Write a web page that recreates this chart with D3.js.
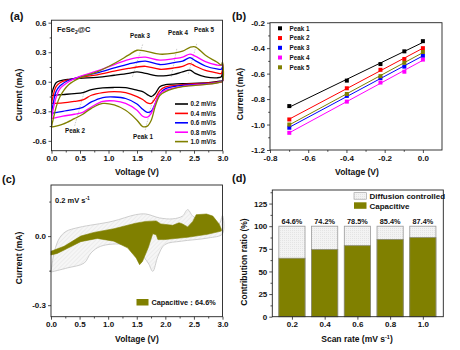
<!DOCTYPE html>
<html><head><meta charset="utf-8">
<script src="https://cdn.jsdelivr.net/npm/d3@7"></script>
<style>
html,body{margin:0;padding:0;background:#fff;}
svg text{font-family:"Liberation Sans",Arial,sans-serif;font-weight:bold;}
</style></head>
<body><svg id="chart" width="460" height="350"></svg>
<script>
// ---------- DATA ----------
// (a) CV curves at different scan rates
const scanRates = ["0.2 mV/s","0.4 mV/s","0.6 mV/s","0.8 mV/s","1.0 mV/s"];
const cvColors = ["#000000","#ff0000","#0000ff","#ff00ff","#808000"];
const cvVoltUp = [0,0.03,0.08,0.15,0.3,0.5,0.8,1.1,1.35,1.5,1.65,1.9,2.15,2.3,2.43,2.52,2.7,2.9,2.98,3.0];
const cvUp02 = [-0.14,-0.07,-0.01,0.01,0.025,0.035,0.045,0.066,0.085,0.1,0.085,0.06,0.076,0.1,0.117,0.085,0.05,0.04,0.05,0.1];
const cvUp04 = [-0.22,-0.14,-0.05,-0.01,0.02,0.045,0.07,0.107,0.135,0.15,0.157,0.127,0.14,0.157,0.185,0.16,0.115,0.09,0.083,0.12];
const cvUp06 = [-0.32,-0.22,-0.1,-0.04,0.015,0.05,0.09,0.14,0.18,0.2,0.21,0.175,0.195,0.21,0.245,0.215,0.16,0.13,0.127,0.15];
const cvUp08 = [-0.375,-0.28,-0.16,-0.07,0.0,0.055,0.11,0.175,0.225,0.245,0.25,0.22,0.235,0.25,0.28,0.26,0.205,0.17,0.167,0.18];
const cvUp10 = [-0.46,-0.38,-0.26,-0.15,-0.03,0.04,0.1,0.185,0.27,0.32,0.31,0.28,0.29,0.31,0.35,0.355,0.27,0.2,0.17,0.2];
const cvVoltDown = [3.0,2.95,2.75,2.3,2.0,1.9,1.82,1.75,1.68,1.6,1.5,1.3,1.1,0.9,0.7,0.55,0.4,0.2,0.0];
const cvDown02 = [0.012,0.005,-0.008,-0.02,-0.03,-0.05,-0.12,-0.15,-0.13,-0.1,-0.085,-0.06,-0.058,-0.062,-0.08,-0.11,-0.12,-0.13,-0.14];
const cvDown04 = [0.01,0.0,-0.012,-0.03,-0.053,-0.09,-0.17,-0.22,-0.215,-0.18,-0.15,-0.11,-0.1,-0.11,-0.137,-0.185,-0.2,-0.215,-0.22];
const cvDown06 = [0.01,0.0,-0.019,-0.036,-0.07,-0.12,-0.22,-0.3,-0.31,-0.28,-0.225,-0.17,-0.155,-0.16,-0.205,-0.26,-0.28,-0.3,-0.32];
const cvDown08 = [0.005,-0.005,-0.022,-0.046,-0.086,-0.12,-0.22,-0.32,-0.36,-0.35,-0.29,-0.22,-0.195,-0.2,-0.256,-0.31,-0.33,-0.35,-0.375];
const cvDown10 = [0.005,-0.005,-0.025,-0.05,-0.1,-0.14,-0.25,-0.39,-0.45,-0.455,-0.39,-0.29,-0.235,-0.22,-0.27,-0.33,-0.375,-0.43,-0.46];
const cvUps = [cvUp02,cvUp04,cvUp06,cvUp08,cvUp10];
const cvDowns = [cvDown02,cvDown04,cvDown06,cvDown08,cvDown10];

// (b) log(i) vs log(v)
const peakNames = ["Peak 1","Peak 2","Peak 3","Peak 4","Peak 5"];
const peakColors = ["#000000","#ff0000","#0000ff","#ff00ff","#808000"];
const logScan = [-0.699,-0.398,-0.222,-0.097,0.0];
const logPeak1 = [-0.855,-0.655,-0.525,-0.425,-0.345];
const logPeak2 = [-0.96,-0.715,-0.57,-0.485,-0.40];
const logPeak3 = [-1.025,-0.775,-0.635,-0.545,-0.46];
const logPeak4 = [-1.065,-0.82,-0.67,-0.585,-0.49];
const logPeak5 = [-1.0,-0.76,-0.62,-0.515,-0.43];
const logPeaks = [logPeak1,logPeak2,logPeak3,logPeak4,logPeak5];

// (c) capacitive separation at 0.2 mV/s
const totVoltUp = [0,0.06,0.15,0.26,0.49,1.07,1.48,1.66,1.9,2.13,2.3,2.39,2.48,2.65,2.83,2.94,3.0];
const totCurUp = [-0.156,-0.066,-0.008,0.02,0.038,0.064,0.093,0.096,0.079,0.075,0.087,0.115,0.087,0.064,0.05,0.053,0.09];
const totVoltDown = [3.0,2.75,2.28,1.99,1.87,1.78,1.7,1.55,1.28,0.87,0.7,0.58,0.29,0];
const totCurDown = [0.01,-0.008,-0.022,-0.037,-0.088,-0.153,-0.117,-0.073,-0.037,-0.044,-0.073,-0.117,-0.138,-0.156];
const capVoltUp = [0,0.23,0.52,0.75,1.1,1.48,1.66,1.84,1.92,2.13,2.24,2.3,2.39,2.48,2.54,2.72,2.83,2.94,2.98];
const capCurUp = [-0.066,-0.044,0.0,0.016,0.032,0.056,0.064,0.066,0.053,0.047,0.058,0.053,0.04,0.064,0.093,0.096,0.087,0.053,0.03];
const capVoltDown = [2.98,2.74,2.39,1.99,1.87,1.84,1.78,1.7,1.6,1.55,1.49,1.34,1.1,0.81,0.52,0.29,0.11,0];
const capCurDown = [0.022,0.008,-0.005,-0.015,-0.015,0.006,0.01,-0.051,-0.11,-0.124,-0.095,-0.051,-0.022,-0.01,-0.024,-0.053,-0.075,-0.082];

// (d) contribution ratios
const rateCats = [0.2,0.4,0.6,0.8,1.0];
const rateLabels = ["0.2","0.4","0.6","0.8","1.0"];
const capPercent = [64.6,74.2,78.5,85.4,87.4];

// ---------- DRAW ----------
const svg = d3.select("#chart");
const defs = svg.append("defs");
const hatch = defs.append("pattern").attr("id","hatch").attr("patternUnits","userSpaceOnUse")
  .attr("width",3).attr("height",3).attr("patternTransform","rotate(45)");
hatch.append("rect").attr("width",3).attr("height",3).attr("fill","#f6f6f6");
hatch.append("line").attr("x1",0).attr("y1",0).attr("x2",0).attr("y2",3).attr("stroke","#dadada").attr("stroke-width",0.7);
const dots = defs.append("pattern").attr("id","dots").attr("patternUnits","userSpaceOnUse")
  .attr("width",2).attr("height",2);
dots.append("rect").attr("width",2).attr("height",2).attr("fill","#f3f3f3");
dots.append("rect").attr("width",0.8).attr("height",0.8).attr("fill","#dcdcdc");

const fmt1 = d => d.toFixed(1);
function frame(x, y, xMajor, xMinor, yMajor, yMinor, xFmt, yFmt){
  const [x0,x1] = x.range(), [y0,y1] = y.range();
  const g = svg.append("g");
  g.append("g").attr("transform",`translate(0,${y0})`)
    .call(d3.axisBottom(x).tickValues(xMajor).tickSize(3).tickSizeOuter(0).tickFormat(xFmt).tickPadding(2));
  g.append("g").attr("transform",`translate(0,${y0})`)
    .call(d3.axisBottom(x).tickValues(xMinor).tickSize(1.8).tickSizeOuter(0).tickFormat(""));
  g.append("g").attr("transform",`translate(${x0},0)`)
    .call(d3.axisLeft(y).tickValues(yMajor).tickSize(3).tickSizeOuter(0).tickFormat(yFmt).tickPadding(2));
  g.append("g").attr("transform",`translate(${x0},0)`)
    .call(d3.axisLeft(y).tickValues(yMinor).tickSize(1.8).tickSizeOuter(0).tickFormat(""));
  g.selectAll(".domain").remove();
  g.selectAll(".tick line").attr("stroke","#222").attr("stroke-width",0.8);
  g.selectAll(".tick text").attr("font-size",8).attr("fill","#111");
  g.append("rect").attr("x",x0).attr("y",y1).attr("width",x1-x0).attr("height",y0-y1)
    .attr("fill","none").attr("stroke","#222").attr("stroke-width",0.9);
}
function txt(x,y,s,size,anchor,rot){
  const t = svg.append("text").attr("x",x).attr("y",y).attr("font-size",size)
    .attr("text-anchor",anchor||"start").attr("fill","#111").text(s);
  if(rot) t.attr("transform",`rotate(${rot},${x},${y})`);
  return t;
}

// ===== (a) =====
const xa = d3.scaleLinear().domain([0,3]).range([51.5,222.5]);
const ya = d3.scaleLinear().domain([-0.7,0.625]).range([150.7,20.2]);
const lineA = d3.line().x(d=>xa(d[0])).y(d=>ya(d[1])).curve(d3.curveCatmullRom.alpha(0.5));
const guides = [[[1.42,0.05],[1.6,0.38]],[[2.1,0.05],[2.2,0.34]],[[2.4,0.08],[2.55,0.39]],
                [[1.8,-0.13],[1.64,-0.5]],[[0.58,-0.09],[0.4,-0.46]]];
guides.forEach(gd=>{
  svg.append("path").attr("d",d3.line().x(d=>xa(d[0])).y(d=>ya(d[1]))(gd))
    .attr("stroke","#aaa").attr("stroke-width",0.6).attr("stroke-dasharray","1.5,1.2").attr("fill","none");
});
cvUps.forEach((up,i)=>{
  const pts = cvVoltUp.map((v,j)=>[v,up[j]]).concat(cvVoltDown.map((v,j)=>[v,cvDowns[i][j]]));
  svg.append("path").attr("d",lineA(pts)).attr("fill","none").attr("stroke",cvColors[i]).attr("stroke-width",1.3);
});
frame(xa,ya,[0,0.5,1,1.5,2,2.5,3],[0.25,0.75,1.25,1.75,2.25,2.75],
      [-0.6,-0.3,0,0.3,0.6],[-0.45,-0.15,0.15,0.45],fmt1,fmt1);
const fe = txt(57,32,"FeSe",7.5);
fe.append("tspan").attr("font-size",5).attr("dy",2).text("2");
fe.append("tspan").attr("dy",-2).text("@C");
[["Peak 3",140,38],["Peak 4",178,35],["Peak 5",204,32],["Peak 2",75,133],["Peak 1",143,139]]
  .forEach(p=>txt(p[1],p[2],p[0],6.3,"middle"));
scanRates.forEach((s,i)=>{
  const yy = 104 + i*9.4;
  svg.append("line").attr("x1",175).attr("x2",188).attr("y1",yy).attr("y2",yy)
    .attr("stroke",cvColors[i]).attr("stroke-width",1.6);
  txt(190.5,yy+2.3,s,6.3);
});
txt(22,95,"Current (mA)",8.5,"middle",-90);
txt(137,175,"Voltage (V)",8.5,"middle");
txt(10,20,"(a)",11,"start");

// ===== (b) =====
const xb = d3.scaleLinear().domain([-0.8,0.1]).range([270,442]);
const yb = d3.scaleLinear().domain([-1.2,-0.2]).range([150,22.7]);
frame(xb,yb,[-0.8,-0.6,-0.4,-0.2,0],[-0.7,-0.5,-0.3,-0.1],
      [-1.2,-1.0,-0.8,-0.6,-0.4,-0.2],[-1.1,-0.9,-0.7,-0.5,-0.3],fmt1,fmt1);
logPeaks.forEach((ys,i)=>{
  const mx = d3.mean(logScan), my = d3.mean(ys);
  const slope = d3.sum(logScan.map((x,j)=>(x-mx)*(ys[j]-my)))/d3.sum(logScan.map(x=>(x-mx)*(x-mx)));
  const b = my - slope*mx;
  const xs = d3.extent(logScan);
  svg.append("line").attr("x1",xb(xs[0])).attr("y1",yb(slope*xs[0]+b))
    .attr("x2",xb(xs[1])).attr("y2",yb(slope*xs[1]+b)).attr("stroke",peakColors[i]).attr("stroke-width",1);
  svg.selectAll(null).data(logScan).enter().append("rect")
    .attr("x",(d)=>xb(d)-2).attr("y",(d,j)=>yb(ys[j])-2).attr("width",4).attr("height",4)
    .attr("fill",peakColors[i]);
  const yy = 28.3 + i*9.75;
  svg.append("rect").attr("x",278).attr("y",yy-2).attr("width",4).attr("height",4).attr("fill",peakColors[i]);
  txt(289.5,yy+2.3,peakNames[i],6.3);
});
txt(243,94,"Current (mA)",8.5,"middle",-90);
txt(357,175,"Voltage (V)",8.5,"middle");
txt(232,20,"(b)",11,"start");

// ===== (c) =====
const xc = d3.scaleLinear().domain([0,3]).range([51,222.5]);
const yc = d3.scaleLinear().domain([-0.35,0.222]).range([316.7,185]);
const lineC = d3.line().x(d=>xc(d[0])).y(d=>yc(d[1])).curve(d3.curveCatmullRom.alpha(0.5));
const lineCl = d3.line().x(d=>xc(d[0])).y(d=>yc(d[1])).curve(d3.curveLinear);
const totPts = totVoltUp.map((v,j)=>[v,totCurUp[j]]).concat(totVoltDown.map((v,j)=>[v,totCurDown[j]]));
svg.append("path").attr("d",lineC(totPts)+"Z").attr("fill","url(#hatch)").attr("stroke","#c8c8c8").attr("stroke-width",0.9);
const capPts = capVoltUp.map((v,j)=>[v,capCurUp[j]]).concat(capVoltDown.map((v,j)=>[v,capCurDown[j]]));
svg.append("path").attr("d",lineCl(capPts)+"Z").attr("fill","#808000").attr("stroke","#808000").attr("stroke-width",0.6);
frame(xc,yc,[0,0.5,1,1.5,2,2.5,3],[0.25,0.75,1.25,1.75,2.25,2.75],
      [-0.3,0],[-0.15,0.15],fmt1,fmt1);
const lab = txt(55,203,"0.2 mV s",7.5);
lab.append("tspan").attr("font-size",5).attr("dy",-3).text("-1");
svg.append("rect").attr("x",136.5).attr("y",299).attr("width",12).attr("height",6.5).attr("fill","#808000");
txt(151.5,305,"Capacitive：64.6%",7.3);
txt(22,258,"Current (mA)",8.5,"middle",-90);
txt(137,342,"Voltage (V)",8.5,"middle");
txt(2,183,"(c)",11,"start");

// ===== (d) =====
const xd = d3.scaleLinear().domain([0.08,1.125]).range([272.3,443.3]);
const yd = d3.scaleLinear().domain([0,140]).range([316.7,190]);
const bw = 0.08;
svg.selectAll(null).data(rateCats).enter().append("rect")
  .attr("x",d=>xd(d-bw)).attr("width",d=>xd(d+bw)-xd(d-bw))
  .attr("y",yd(100)).attr("height",yd(0)-yd(100))
  .attr("fill","url(#dots)").attr("stroke","#9a9a9a").attr("stroke-width",0.8);
svg.selectAll(null).data(rateCats).enter().append("rect")
  .attr("x",d=>xd(d-bw)).attr("width",d=>xd(d+bw)-xd(d-bw))
  .attr("y",(d,i)=>yd(capPercent[i])).attr("height",(d,i)=>yd(0)-yd(capPercent[i]))
  .attr("fill","#808000").attr("stroke","#8a8a70").attr("stroke-width",0.8);
rateCats.forEach((d,i)=>txt(xd(d),223.5,capPercent[i].toFixed(1)+"%",7.3,"middle"));
frame(xd,yd,rateCats,[],[0,25,50,75,100,125],[12.5,37.5,62.5,87.5,112.5,137.5],
      (d,i)=>rateLabels[i],d=>String(d));
svg.append("rect").attr("x",354).attr("y",192.7).attr("width",12.5).attr("height",6.5)
  .attr("fill","url(#dots)").attr("stroke","#9a9a9a").attr("stroke-width",0.6);
txt(369.5,199,"Diffusion controlled",8);
svg.append("rect").attr("x",354).attr("y",202.3).attr("width",12.5).attr("height",6.5).attr("fill","#808000");
txt(369.5,208.6,"Capacitive",8);
txt(247,262,"Contribution ratio (%)",8.5,"middle",-90);
const sl = txt(357,342,"Scan rate (mV s",8.5,"middle");
sl.append("tspan").attr("font-size",5.5).attr("dy",-3.5).text("-1");
sl.append("tspan").attr("dy",3.5).text(")");
txt(232,182,"(d)",11,"start");
</script></body></html>
